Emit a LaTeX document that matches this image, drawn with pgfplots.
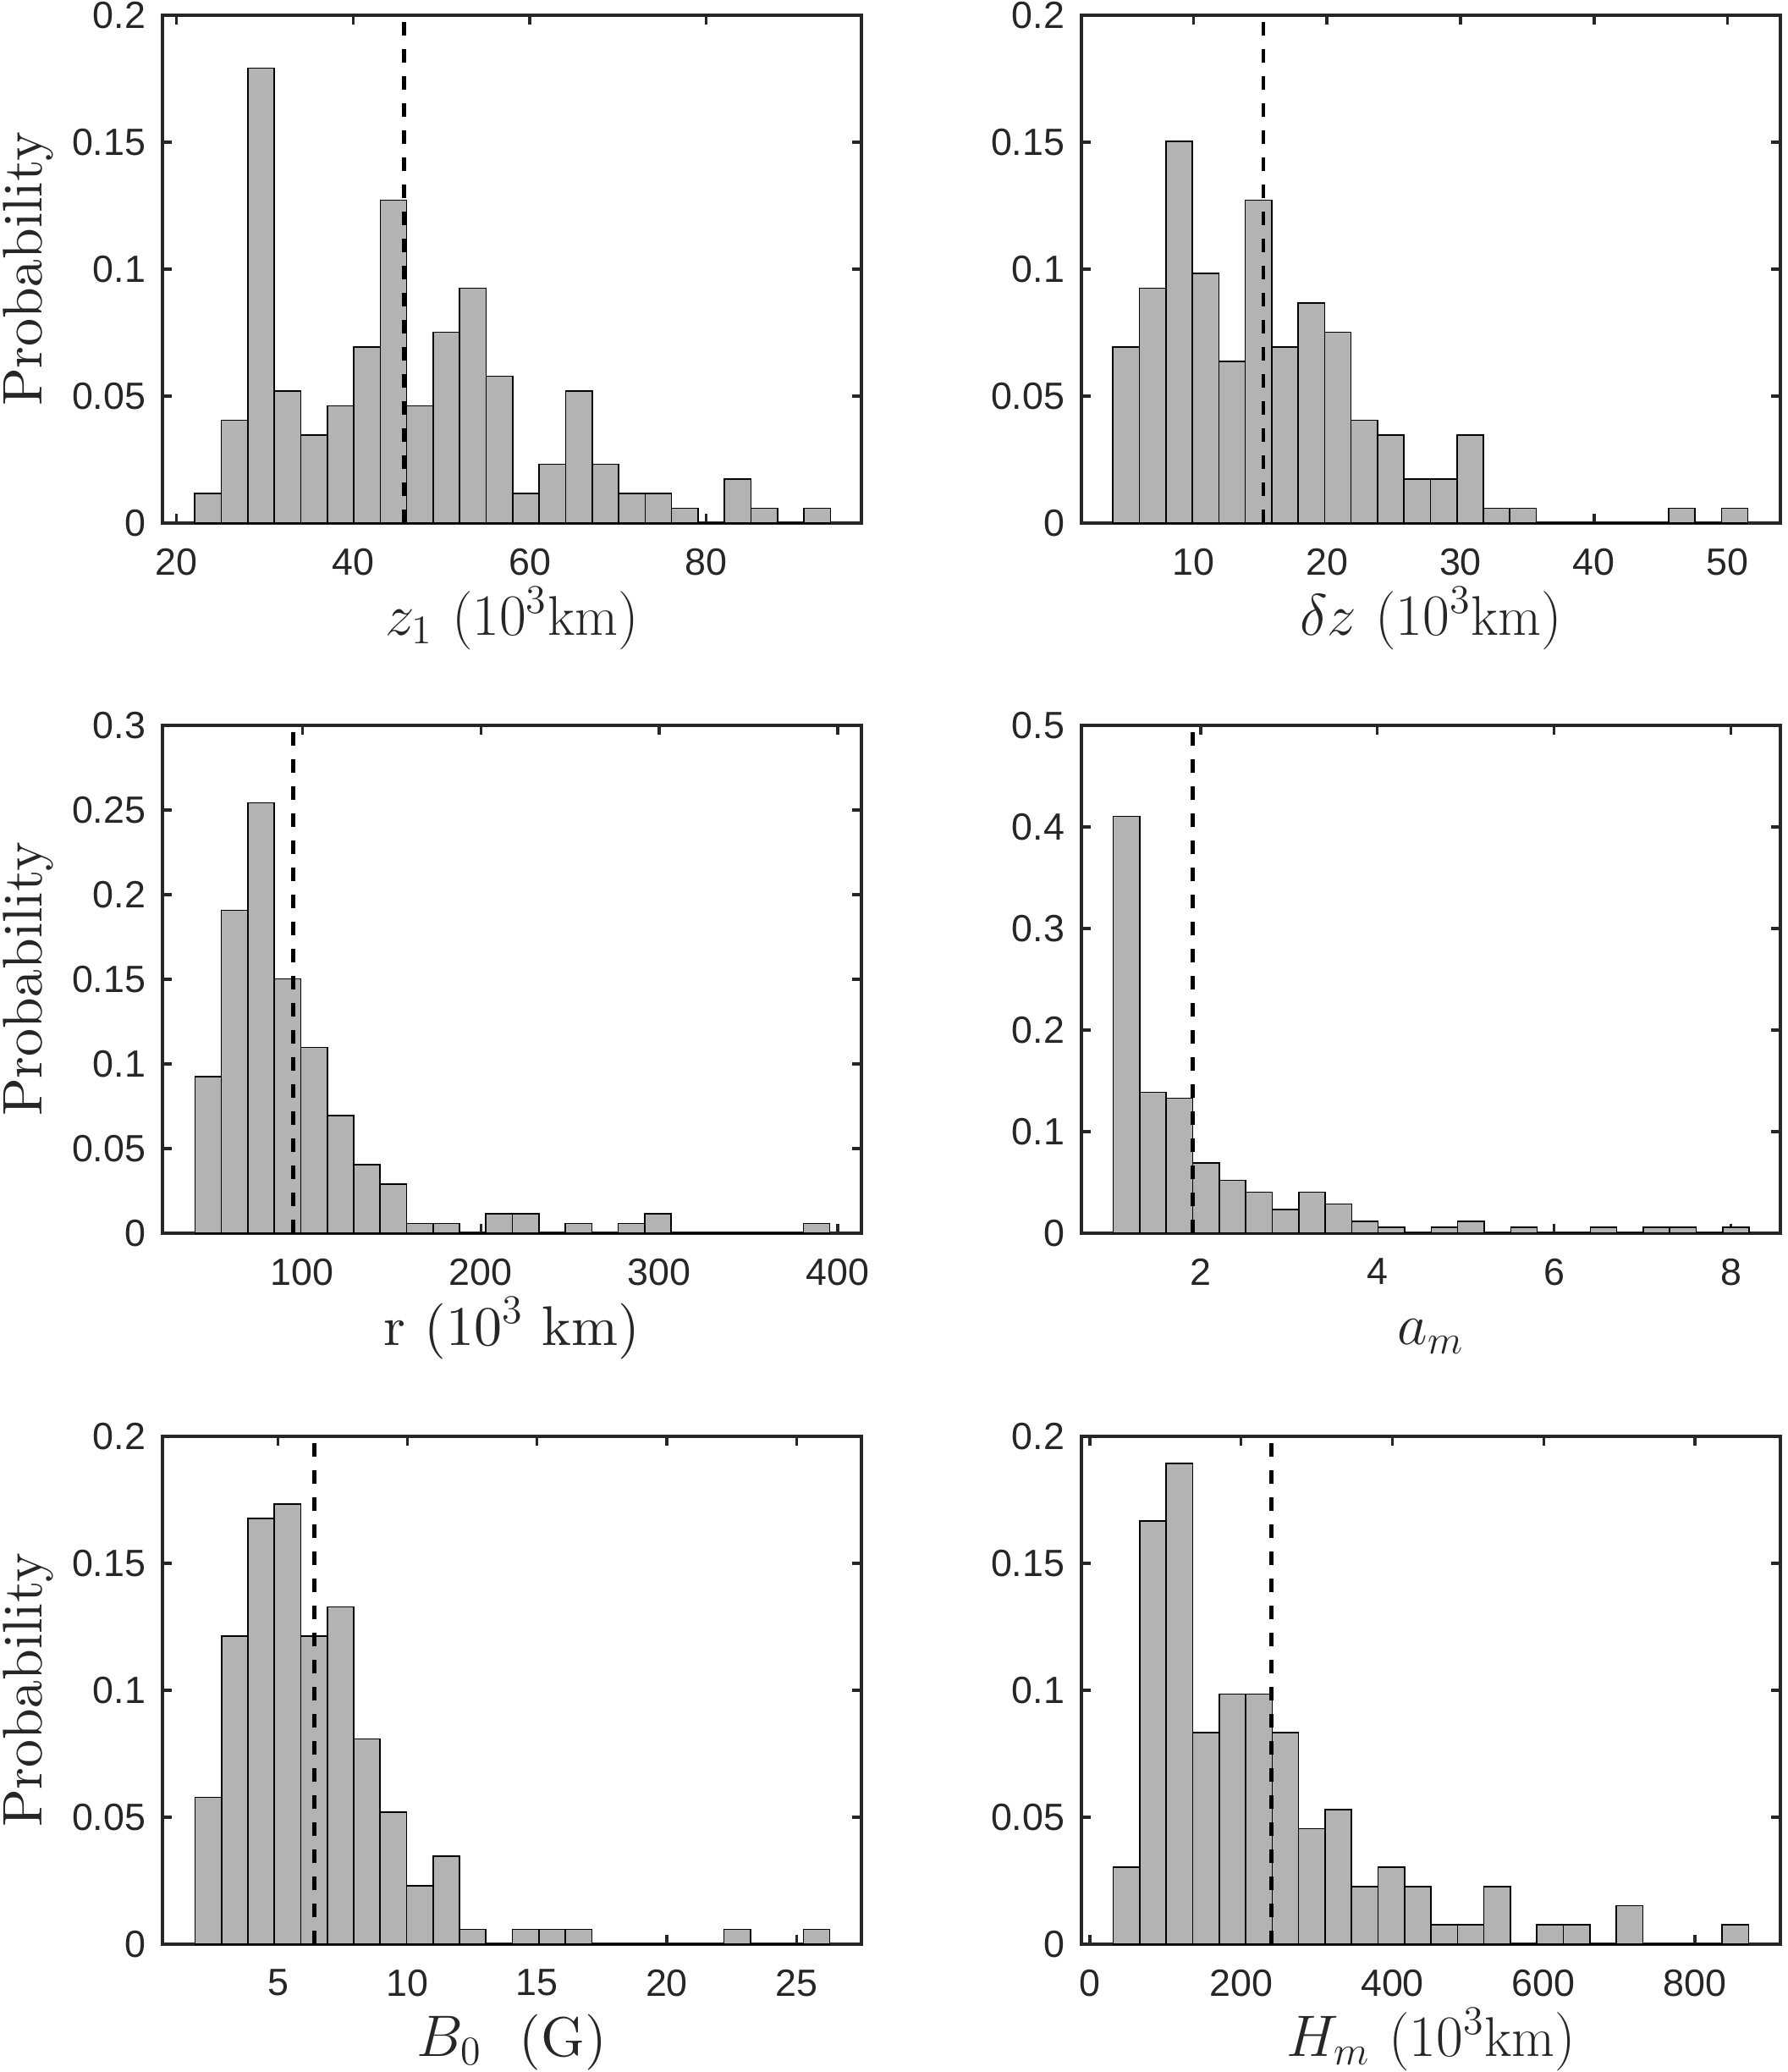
\documentclass[border=0pt]{standalone}
\usepackage{fontspec}
\usepackage{pgfplots}
\pgfplotsset{compat=1.18}

\newfontfamily\arialfont{Liberation Sans}
\newfontfamily\lmten{lmroman10-regular.otf}
\definecolor{axgray}{RGB}{38,38,38}
\definecolor{barfill}{RGB}{179,179,179}

\pgfplotsset{
  hist/.style={
    scale only axis, width=206.5pt, height=150pt,
    anchor=north west,
    ymin=0,
    axis line style={draw=axgray, line width=0.8pt},
    every tick/.style={draw=axgray, line width=0.8pt},
    major tick length=2.7pt,
    tick align=inside,
    scaled x ticks=false, scaled y ticks=false,
    /pgf/number format/assume math mode=true,
    tick label style={font=\arialfont\fontsize{11.2}{13}\selectfont, text=axgray, inner sep=0pt},
    yticklabel style={/pgf/number format/fixed, /pgf/number format/precision=2, anchor=east, xshift=-4.75pt},
    xticklabel style={anchor=north, yshift=-7.25pt},
    xlabel style={at={(axis description cs:0.5,-0.22)}, anchor=base, inner sep=0pt,
      font=\lmten\fontsize{16.5}{19.8}\selectfont, text=axgray},
    ylabel style={at={(axis description cs:-0.1731,0.5)}, anchor=base, inner sep=0pt,
      font=\lmten\fontsize{16.5}{19.8}\selectfont, text=axgray},
  },
  bars/.style={ybar interval, fill=barfill, draw=black, line width=0.4pt},
  meanline/.style={black, line width=1.2pt, dash pattern=on 4pt off 4pt},
}

\begin{document}
\begin{tikzpicture}
\useasboundingbox (0,0) rectangle (528pt,-612pt);

% z_1
\begin{axis}[hist, at={(48pt,-4.5pt)},
  xmin=18.39, xmax=97.57, ymax=0.2,
  xtick={20,40,60,80}, ytick={0,0.05,0.1,0.15,0.2},
  xlabel={$z_1\ (10^3\mathrm{km})$}, ylabel={Probability}]
\addplot[bars] coordinates {
(22.06,0.0116) (25.06,0.0405) (28.06,0.1792) (31.06,0.0520) (34.06,0.0347)
(37.06,0.0462) (40.06,0.0694) (43.06,0.1272) (46.06,0.0462) (49.06,0.0751)
(52.06,0.0925) (55.06,0.0578) (58.06,0.0116) (61.06,0.0231) (64.06,0.0520)
(67.06,0.0231) (70.06,0.0116) (73.06,0.0116) (76.06,0.0058) (79.06,0)
(82.06,0.0173) (85.06,0.0058) (88.06,0) (91.06,0.0058) (94.06,0)};
\addplot[meanline] coordinates {(45.78,0) (45.78,0.2)};
\end{axis}

% delta z
\begin{axis}[hist, at={(319.5pt,-4.5pt)},
  xmin=1.63, xmax=53.94, ymax=0.2,
  xtick={10,20,30,40,50}, ytick={0,0.05,0.1,0.15,0.2},
  xlabel={$\delta z\ (10^3\mathrm{km})$}]
\addplot[bars] coordinates {
(3.99,0.0694) (5.97,0.0925) (7.95,0.1503) (9.93,0.0983) (11.91,0.0636)
(13.89,0.1272) (15.87,0.0694) (17.85,0.0867) (19.83,0.0751) (21.81,0.0405)
(23.79,0.0347) (25.77,0.0173) (27.75,0.0173) (29.73,0.0347) (31.71,0.0058)
(33.69,0.0058) (35.67,0) (37.65,0) (39.63,0) (41.61,0)
(43.59,0) (45.57,0.0058) (47.55,0) (49.53,0.0058) (51.51,0)};
\addplot[meanline] coordinates {(15.24,0) (15.24,0.2)};
\end{axis}

% r
\begin{axis}[hist, at={(48pt,-214.25pt)},
  xmin=21.6, xmax=413.3, ymax=0.3,
  xtick={100,200,300,400}, ytick={0,0.05,0.1,0.15,0.2,0.25,0.3},
  xlabel={r (10$^3$ km)}, ylabel={Probability}]
\addplot[bars] coordinates {
(39.80,0.0925) (54.63,0.1908) (69.45,0.2543) (84.28,0.1503) (99.10,0.1098)
(113.93,0.0694) (128.75,0.0405) (143.58,0.0289) (158.40,0.0058) (173.23,0.0058)
(188.05,0) (202.88,0.0116) (217.70,0.0116) (232.53,0) (247.35,0.0058)
(262.18,0) (277.00,0.0058) (291.83,0.0116) (306.65,0) (321.48,0)
(336.30,0) (351.13,0) (365.95,0) (380.78,0.0058) (395.60,0)};
\addplot[meanline] coordinates {(94.8,0) (94.8,0.3)};
\end{axis}

% a_m
\begin{axis}[hist, at={(319.5pt,-214.25pt)},
  xmin=0.65, xmax=8.56, ymax=0.5,
  xtick={2,4,6,8}, ytick={0,0.1,0.2,0.3,0.4,0.5},
  xlabel={$a_m$}]
\addplot[bars] coordinates {
(1.008,0.4104) (1.308,0.1387) (1.608,0.1329) (1.908,0.0694) (2.208,0.0520)
(2.508,0.0405) (2.808,0.0231) (3.108,0.0405) (3.408,0.0289) (3.708,0.0116)
(4.008,0.0058) (4.308,0) (4.608,0.0058) (4.908,0.0116) (5.208,0)
(5.508,0.0058) (5.808,0) (6.108,0) (6.408,0.0058) (6.708,0)
(7.008,0.0058) (7.308,0.0058) (7.608,0) (7.908,0.0058) (8.208,0)};
\addplot[meanline] coordinates {(1.912,0) (1.912,0.5)};
\end{axis}

% B_0
\begin{axis}[hist, at={(48pt,-424.25pt)},
  xmin=0.544, xmax=27.51, ymax=0.2,
  xtick={5,10,15,20,25}, ytick={0,0.05,0.1,0.15,0.2},
  xlabel={$B_0$\ \ (G)}, ylabel={Probability}]
\addplot[bars] coordinates {
(1.800,0.0578) (2.820,0.1214) (3.841,0.1676) (4.861,0.1734) (5.882,0.1214)
(6.902,0.1329) (7.922,0.0809) (8.943,0.0520) (9.963,0.0231) (10.984,0.0347)
(12.004,0.0058) (13.024,0) (14.045,0.0058) (15.065,0.0058) (16.086,0.0058)
(17.106,0) (18.126,0) (19.147,0) (20.167,0) (21.188,0)
(22.208,0.0058) (23.228,0) (24.249,0) (25.269,0.0058) (26.290,0)};
\addplot[meanline] coordinates {(6.40,0) (6.40,0.2)};
\end{axis}

% H_m
\begin{axis}[hist, at={(319.5pt,-424.25pt)},
  xmin=-11.1, xmax=913, ymax=0.2,
  xtick={0,200,400,600,800}, ytick={0,0.05,0.1,0.15,0.2},
  xlabel={$H_m\ (10^3\mathrm{km})$}]
\addplot[bars] coordinates {
(31,0.0303) (66,0.1667) (101,0.1894) (136,0.0833) (171,0.0985)
(206,0.0985) (241,0.0833) (276,0.0455) (311,0.0530) (346,0.0227)
(381,0.0303) (416,0.0227) (451,0.0076) (486,0.0076) (521,0.0227)
(556,0) (591,0.0076) (626,0.0076) (661,0) (696,0.0152)
(731,0) (766,0) (801,0) (836,0.0076) (871,0)};
\addplot[meanline] coordinates {(239.6,0) (239.6,0.2)};
\end{axis}
\end{tikzpicture}
\end{document}
